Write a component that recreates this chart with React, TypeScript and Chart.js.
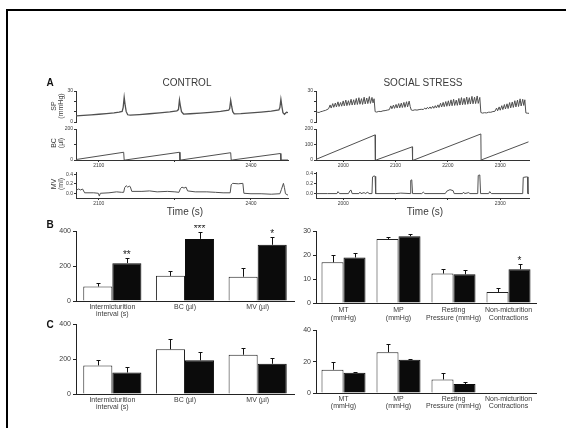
import React, { useEffect, useRef } from 'react';
import { Chart, registerables } from 'chart.js';

Chart.register(...registerables);

const FONT = 'Arial, "Liberation Sans", Helvetica, sans-serif';
const TEXT = '#3a3a3a';
const AXIS = '#333';
const TRACE = '#505050';

// ---------------- Panel A : traces ----------------
const controlTimeRange = [2055, 2473];
const stressTimeRange = [1948, 2355];
const controlTimeTicks = [2100, 2250, 2400];
const controlTimeLabels = ['2100', '', '2400'];
const stressTimeTicks = [2000, 2100, 2200, 2300];
const stressBcTimeLabels = ['2000', '2100', '2200', '2300'];
const stressMvTimeLabels = ['2000', '', '', '2300'];

const spTicks = [0, 10, 20, 30];
const spTickLabels = ['0', '', '', '30'];
const bcTicks = [0, 100, 200];
const controlBcTickLabels = ['0', '', '200'];
const stressBcTickLabels = ['0', '100', '200'];
const mvTicks = [0, 0.2, 0.4];
const mvTickLabels = ['0.0', '0.2', '0.4'];

const controlSpTrace: [number, number][] = [
  [2055, 6.0], [2070, 6.4], [2085, 6.9], [2100, 7.5], [2115, 8.2], [2130, 8.9], [2140, 9.6],
  [2146, 10.3], [2148, 14], [2150, 23.9], [2152, 16], [2154, 10], [2157, 7.0], [2162, 6.6],
  [2180, 7.2], [2200, 8.0], [2220, 8.8], [2240, 9.8], [2254, 10.8], [2257, 12], [2259, 21.3],
  [2261, 15], [2263, 10], [2267, 7.7], [2280, 8.0], [2300, 8.6], [2320, 9.4], [2340, 10.3],
  [2356, 11.4], [2358, 13], [2360, 21.0], [2362, 15], [2364, 10], [2367, 7.8], [2380, 8.1],
  [2400, 8.8], [2420, 9.6], [2440, 10.5], [2455, 11.6], [2457, 14], [2459, 22.0], [2461, 15],
  [2463, 9.0], [2466, 7.5], [2470, 9.5], [2473, 9.0],
];
const controlBcTrace: [number, number][] = [
  [2055, 3], [2149, 50], [2150, 0], [2152, 0], [2259, 50], [2260, 0], [2262, 0],
  [2360, 47], [2361, 0], [2363, 0], [2458, 42], [2459, 0], [2473, 0],
];
const controlMvTrace: [number, number][] = [
  [2055, 0.06], [2060, 0.09], [2064, 0.07], [2068, 0.09], [2072, 0.01], [2090, 0.01], [2099, 0.0],
  [2101, -0.06], [2103, 0.0], [2120, 0.01], [2135, 0.03], [2145, 0.02], [2149, 0.02], [2151, 0.12],
  [2154, 0.16], [2157, 0.13], [2160, 0.15], [2162, 0.14], [2165, 0.04], [2185, 0.04], [2200, 0.05],
  [2215, 0.03], [2235, 0.04], [2250, 0.03], [2258, 0.02], [2261, 0.10], [2264, 0.13], [2268, 0.11],
  [2272, 0.13], [2275, 0.05], [2290, 0.03], [2313, 0.03], [2330, 0.02], [2345, 0.01], [2359, 0.01],
  [2361, 0.18], [2364, 0.21], [2375, 0.20], [2384, 0.21], [2386, 0.0], [2400, -0.01], [2420, -0.01],
  [2440, -0.02], [2457, -0.01], [2460, 0.08], [2464, 0.21], [2466, 0.12], [2468, -0.01], [2473, -0.04],
];

const stressSpTrace: [number, number][] = [
  [1948, 9.0], [1951, 9.4], [1954, 9.2], [1957, 10.0], [1960, 10.3], [1963, 10.9], [1966, 11.2], [1969, 12.0], [1972, 12.8],
  [1975, 16.5], [1977, 13.5], [1980, 17.8], [1982, 14.2], [1985, 18.4], [1987, 14.6], [1990, 19.5], [1992, 15.0],
  [1995, 18.9], [1997, 15.3], [2000, 20.4], [2002, 15.6], [2005, 21.2], [2007, 15.8], [2010, 20.6], [2012, 16.2],
  [2015, 22.0], [2017, 16.4], [2020, 21.5], [2022, 16.6], [2025, 22.8], [2027, 16.9], [2030, 23.5], [2032, 17.2],
  [2035, 22.6], [2037, 17.0], [2040, 24.0], [2042, 17.5], [2045, 23.2], [2047, 17.8], [2050, 24.6], [2052, 18.0],
  [2055, 23.8], [2057, 18.5], [2059, 22.5], [2061, 10.0], [2064, 9.6],
  [2068, 10.3], [2072, 10.1], [2076, 10.8], [2080, 11.0], [2084, 11.5], [2088, 11.9],
  [2091, 15.6], [2093, 12.8], [2096, 16.4], [2098, 13.2], [2101, 17.0], [2103, 13.5], [2106, 17.8], [2108, 13.7],
  [2111, 18.3], [2113, 14.0], [2116, 19.0], [2118, 14.2], [2121, 19.6], [2123, 14.6], [2126, 20.2], [2128, 15.0],
  [2130, 11.6], [2133, 11.2],
  [2137, 11.8], [2141, 11.5], [2145, 12.0], [2149, 12.3], [2153, 12.1], [2156, 13.6], [2158, 12.4], [2161, 14.2],
  [2163, 12.8], [2166, 14.6], [2168, 13.0], [2171, 15.2], [2173, 13.3], [2176, 15.8], [2178, 13.6], [2181, 16.6], [2183, 14.0],
  [2186, 18.2], [2188, 14.5], [2191, 19.0], [2193, 14.8], [2196, 19.8], [2198, 15.2], [2201, 20.5], [2203, 15.4],
  [2206, 21.4], [2208, 15.7], [2211, 22.0], [2213, 16.0], [2216, 21.2], [2218, 16.1], [2221, 22.8], [2223, 16.4],
  [2226, 23.6], [2228, 16.7], [2231, 22.9], [2233, 16.9], [2236, 24.2], [2238, 17.2], [2241, 23.5], [2243, 17.4],
  [2246, 24.8], [2248, 17.6], [2251, 24.0], [2253, 17.8], [2256, 25.2], [2258, 18.0], [2261, 23.8],
  [2263, 9.2], [2266, 8.6], [2270, 9.0], [2274, 8.8], [2278, 9.5], [2282, 9.4], [2286, 10.1], [2290, 10.4],
  [2293, 13.5], [2295, 10.8], [2298, 14.6], [2300, 11.4], [2303, 15.8], [2305, 12.0], [2308, 16.9], [2310, 12.6],
  [2313, 17.6], [2315, 13.0], [2318, 18.8], [2320, 13.6], [2323, 19.4], [2325, 14.1], [2328, 20.6], [2330, 14.6],
  [2333, 21.2], [2335, 15.0], [2338, 22.4], [2340, 15.5], [2343, 22.0], [2345, 16.0], [2347, 21.5],
  [2349, 8.8], [2352, 8.5], [2355, 8.4],
];
const stressBcTrace: [number, number][] = [
  [1948, 4], [2061, 162], [2061.5, 0], [2063, 0], [2132, 85], [2132.5, 0], [2135, 0],
  [2263, 168], [2263.5, 0], [2265, 0], [2354, 117],
];
const stressMvTrace: [number, number][] = [
  [1948, 0], [1970, 0], [1988, 0], [1990, 0.04], [1993, 0], [2010, 0], [2013, 0.06], [2015, 0.07], [2017, 0],
  [2030, 0], [2032, 0.03], [2034, 0], [2040, 0.02], [2042, 0], [2047, 0.03], [2049, 0], [2055, 0], [2056, 0.34],
  [2059, 0.36], [2061, 0.35], [2062, 0], [2100, 0], [2110, 0.01], [2128, 0], [2129, 0.27], [2131, 0.28],
  [2132.5, 0], [2150, 0], [2153, 0.03], [2156, 0], [2195, 0], [2198, 0.05], [2204, 0.08], [2210, 0.06],
  [2212, 0], [2228, 0], [2230, 0.03], [2232, 0], [2240, 0.02], [2242, 0], [2257, 0], [2258, 0.37],
  [2261, 0.38], [2262.5, 0], [2278, 0], [2280, 0.04], [2283, 0], [2343, 0], [2344, 0.33], [2350, 0.34],
  [2352, 0.34], [2353, 0], [2355, 0],
];

// ---------------- Panels B and C : bars ----------------
const leftCategories = [['Intermicturition', 'interval (s)'], ['BC (µl)'], ['MV (µl)']];
const rightCategories = [['MT', '(mmHg)'], ['MP', '(mmHg)'], ['Resting', 'Pressure (mmHg)'], ['Non-micturition', 'Contractions']];

const bLeftWhite = [83, 144, 139];
const bLeftWhiteErr = [22, 28, 50];
const bLeftBlack = [217, 356, 322];
const bLeftBlackErr = [28, 39, 43];
const bLeftStars = ['**', '***', '*'];

const bRightWhite = [17.0, 26.7, 12.3, 4.6];
const bRightWhiteErr = [3.2, 1.0, 1.8, 1.8];
const bRightBlack = [19.0, 27.9, 12.0, 14.1];
const bRightBlackErr = [2.0, 1.0, 1.8, 2.0];
const bRightStars = ['', '', '', '*'];

const cLeftWhite = [164, 256, 225];
const cLeftWhiteErr = [30, 61, 41];
const cLeftBlack = [123, 193, 173];
const cLeftBlackErr = [31, 50, 33];

const cRightWhite = [14.8, 26.0, 8.6, 0.3];
const cRightWhiteErr = [4.7, 5.1, 4.3, 0];
const cRightBlack = [12.9, 21.1, 5.7, 0.3];
const cRightBlackErr = [0.4, 0.8, 1.4, 0];

type Box = { l: number; t: number; r: number; b: number; ml: number; mt: number; mr: number; mb: number };

function traceConfig(
  trace: [number, number][], xRange: number[], yMin: number, yMax: number,
  yTicks: number[], yLabels: string[], xTicks: number[] | null, xLabels: string[] | null, box: Box, lw: number,
): any {
  const showX = !!xTicks;
  const xScale: any = {
    type: 'linear', min: xRange[0], max: xRange[1], display: showX,
    border: { display: true, color: AXIS, width: 1 },
    grid: { display: true, drawOnChartArea: false, drawTicks: true, tickLength: 2, color: AXIS },
    ticks: {
      autoSkip: false, maxRotation: 0, padding: 1, color: TEXT, font: { family: FONT, size: 5 },
      callback: (_v: any, i: number) => (xLabels ? xLabels[i] ?? '' : ''),
    },
  };
  if (showX) {
    xScale.afterBuildTicks = (s: any) => { s.ticks = (xTicks as number[]).map((v) => ({ value: v })); };
    xScale.afterFit = (s: any) => { s.height = box.mb; };
  }
  return {
    type: 'line',
    data: {
      datasets: [{
        data: trace.map(([x, y]) => ({ x, y })), borderColor: TRACE, borderWidth: lw,
        pointRadius: 0, tension: 0, fill: false,
      }],
    },
    options: {
      animation: false, responsive: false, maintainAspectRatio: false, events: [],
      layout: { padding: { top: box.mt, right: box.mr, left: 0, bottom: showX ? 0 : box.mb } },
      plugins: { legend: { display: false }, tooltip: { enabled: false } },
      scales: {
        x: xScale,
        y: {
          type: 'linear', min: yMin, max: yMax,
          afterBuildTicks: (s: any) => { s.ticks = yTicks.map((v) => ({ value: v })); },
          afterFit: (s: any) => { s.width = box.ml; },
          border: { display: true, color: AXIS, width: 1 },
          grid: { display: true, drawOnChartArea: false, drawTicks: true, tickLength: 2, color: AXIS },
          ticks: {
            autoSkip: false, padding: 1, color: TEXT, font: { family: FONT, size: 5 },
            callback: (_v: any, i: number) => yLabels[i] ?? '',
          },
        },
      },
    },
  };
}

function errorBarPlugin(errs: number[][], stars: string[]) {
  return {
    id: 'errbars',
    afterDatasetsDraw(chart: any) {
      const ctx = chart.ctx;
      const ys = chart.scales.y;
      ctx.save();
      ctx.strokeStyle = '#111';
      ctx.lineWidth = 1;
      chart.data.datasets.forEach((ds: any, i: number) => {
        const meta = chart.getDatasetMeta(i);
        meta.data.forEach((el: any, j: number) => {
          const e = errs[i][j];
          const v = ds.data[j];
          const x = Math.round(el.x) + 0.5;
          const y1 = ys.getPixelForValue(v + e);
          if (e) {
            const y0 = ys.getPixelForValue(v);
            ctx.beginPath();
            ctx.moveTo(x, y0);
            ctx.lineTo(x, Math.round(y1) + 0.5);
            ctx.moveTo(x - 2, Math.round(y1) + 0.5);
            ctx.lineTo(x + 2, Math.round(y1) + 0.5);
            ctx.stroke();
          }
          if (i === 1 && stars[j]) {
            ctx.fillStyle = '#222';
            ctx.font = `10px ${FONT}`;
            ctx.textAlign = 'center';
            ctx.textBaseline = 'middle';
            ctx.fillText(stars[j], el.x, y1 - 3);
          }
        });
      });
      ctx.restore();
    },
  };
}

function barConfig(
  cats: string[][], white: number[], whiteErr: number[], black: number[], blackErr: number[],
  stars: string[], yMax: number, yStep: number, box: Box, lineHeight: number,
): any {
  return {
    type: 'bar',
    data: {
      labels: cats,
      datasets: [
        { data: white, backgroundColor: '#ffffff', borderColor: '#222', borderWidth: 1, barPercentage: 1, categoryPercentage: 0.8 },
        { data: black, backgroundColor: '#0b0b0b', borderColor: '#0b0b0b', borderWidth: 1, barPercentage: 1, categoryPercentage: 0.8 },
      ],
    },
    options: {
      animation: false, responsive: false, maintainAspectRatio: false, events: [],
      layout: { padding: { top: box.mt, right: box.mr, left: 0, bottom: 0 } },
      plugins: { legend: { display: false }, tooltip: { enabled: false } },
      scales: {
        x: {
          grid: { display: false, drawTicks: false, tickLength: 0 },
          border: { display: true, color: '#222', width: 1 },
          ticks: { padding: 3, autoSkip: false, maxRotation: 0, color: TEXT, font: { family: FONT, size: 7, lineHeight } },
          afterFit: (s: any) => { s.height = box.mb; },
        },
        y: {
          min: 0, max: yMax,
          border: { display: true, color: '#222', width: 1 },
          grid: { display: true, drawOnChartArea: false, drawTicks: true, tickLength: 3, color: '#222' },
          ticks: { stepSize: yStep, padding: 2, color: TEXT, font: { family: FONT, size: 7 } },
          afterFit: (s: any) => { s.width = box.ml; },
        },
      },
    },
    plugins: [errorBarPlugin([whiteErr, blackErr], stars)],
  };
}

function ChartBox({ box, build }: { box: Box; build: () => any }) {
  const ref = useRef<HTMLCanvasElement>(null);
  useEffect(() => {
    const chart = new Chart(ref.current as HTMLCanvasElement, build());
    return () => chart.destroy();
  }, []);
  const w = box.r - box.l + box.ml + box.mr;
  const h = box.b - box.t + box.mt + box.mb;
  return (
    <canvas
      ref={ref}
      width={w}
      height={h}
      style={{ position: 'absolute', left: box.l - box.ml, top: box.t - box.mt, width: w, height: h }}
    />
  );
}

function Label({ x, y, text, size, bold, rotate }: { x: number; y: number; text: string; size: number; bold?: boolean; rotate?: boolean }) {
  return (
    <div
      style={{
        position: 'absolute', left: x, top: y, whiteSpace: 'nowrap',
        transform: `translate(-50%, -50%)${rotate ? ' rotate(-90deg)' : ''}`,
        fontFamily: FONT, fontSize: size, fontWeight: bold ? 700 : 400, color: bold ? '#111' : '#3a3a3a', lineHeight: 1,
      }}
    >
      {text}
    </div>
  );
}

const cSp: Box = { l: 76, t: 91, r: 288, b: 122, ml: 22, mt: 4, mr: 4, mb: 4 };
const cBc: Box = { l: 76, t: 127, r: 288, b: 160, ml: 22, mt: 2, mr: 4, mb: 10 };
const cMv: Box = { l: 76, t: 170, r: 288, b: 198, ml: 22, mt: 2, mr: 4, mb: 10 };
const sSp: Box = { l: 316, t: 91, r: 529, b: 122, ml: 22, mt: 4, mr: 4, mb: 4 };
const sBc: Box = { l: 316, t: 127, r: 529, b: 160, ml: 22, mt: 2, mr: 4, mb: 10 };
const sMv: Box = { l: 316, t: 170, r: 529, b: 198, ml: 22, mt: 2, mr: 4, mb: 10 };

const bL: Box = { l: 76, t: 229, r: 294, b: 301, ml: 24, mt: 4, mr: 2, mb: 22 };
const bR: Box = { l: 316, t: 229, r: 536, b: 303, ml: 20, mt: 4, mr: 2, mb: 22 };
const cL: Box = { l: 76, t: 322, r: 294, b: 394, ml: 24, mt: 4, mr: 2, mb: 22 };
const cR: Box = { l: 316, t: 328, r: 536, b: 393, ml: 20, mt: 4, mr: 2, mb: 22 };

export default function App() {
  return (
    <div style={{ position: 'fixed', left: 0, top: 0, width: 566, height: 428, background: '#fff', overflow: 'hidden' }}>
      <div style={{ position: 'absolute', left: 6, top: 9, width: 700, height: 600, borderTop: '2px solid #000', borderLeft: '2px solid #000' }} />

      <ChartBox box={cSp} build={() => traceConfig(controlSpTrace, controlTimeRange, 0, 30, spTicks, spTickLabels, null, null, cSp, 1.3)} />
      <ChartBox box={cBc} build={() => traceConfig(controlBcTrace, controlTimeRange, 0, 200, bcTicks, controlBcTickLabels, controlTimeTicks, controlTimeLabels, cBc, 1)} />
      <ChartBox box={cMv} build={() => traceConfig(controlMvTrace, controlTimeRange, -0.1, 0.45, mvTicks, mvTickLabels, controlTimeTicks, controlTimeLabels, cMv, 1)} />
      <ChartBox box={sSp} build={() => traceConfig(stressSpTrace, stressTimeRange, 0, 30, spTicks, spTickLabels, null, null, sSp, 1)} />
      <ChartBox box={sBc} build={() => traceConfig(stressBcTrace, stressTimeRange, 0, 200, bcTicks, stressBcTickLabels, stressTimeTicks, stressBcTimeLabels, sBc, 1)} />
      <ChartBox box={sMv} build={() => traceConfig(stressMvTrace, stressTimeRange, -0.09, 0.44, mvTicks, mvTickLabels, stressTimeTicks, stressMvTimeLabels, sMv, 1)} />

      <ChartBox box={bL} build={() => barConfig(leftCategories, bLeftWhite, bLeftWhiteErr, bLeftBlack, bLeftBlackErr, bLeftStars, 400, 200, bL, 1.0)} />
      <ChartBox box={bR} build={() => barConfig(rightCategories, bRightWhite, bRightWhiteErr, bRightBlack, bRightBlackErr, bRightStars, 30, 10, bR, 1.15)} />
      <ChartBox box={cL} build={() => barConfig(leftCategories, cLeftWhite, cLeftWhiteErr, cLeftBlack, cLeftBlackErr, ['', '', ''], 400, 200, cL, 1.0)} />
      <ChartBox box={cR} build={() => barConfig(rightCategories, cRightWhite, cRightWhiteErr, cRightBlack, cRightBlackErr, ['', '', '', ''], 40, 20, cR, 1.0)} />

      <Label x={50} y={83} text="A" size={10} bold />
      <Label x={50} y={225} text="B" size={10} bold />
      <Label x={50} y={325} text="C" size={10} bold />
      <Label x={187} y={83} text="CONTROL" size={10} />
      <Label x={423} y={83} text="SOCIAL STRESS" size={10} />
      <Label x={185} y={212} text="Time (s)" size={10} />
      <Label x={425} y={212} text="Time (s)" size={10} />

      <Label x={53} y={106} text="SP" size={7} rotate />
      <Label x={60} y={106} text="(mmHg)" size={7} rotate />
      <Label x={53} y={143} text="BC" size={7} rotate />
      <Label x={60} y={143} text="(µl)" size={7} rotate />
      <Label x={53} y={184} text="MV" size={7} rotate />
      <Label x={60} y={184} text="(ml)" size={7} rotate />
    </div>
  );
}
